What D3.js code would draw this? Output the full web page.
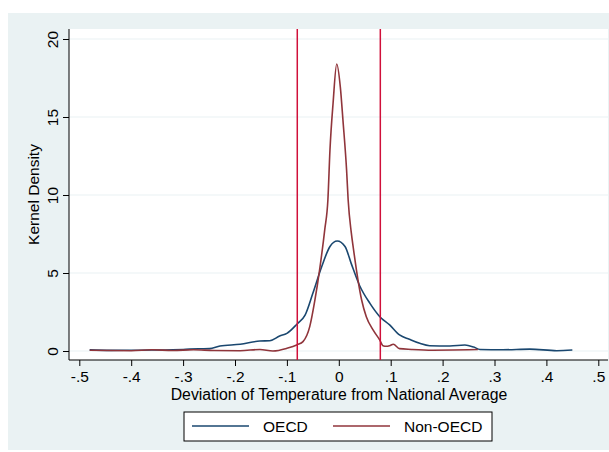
<!DOCTYPE html>
<html>
<head>
<meta charset="utf-8">
<script src="https://cdn.jsdelivr.net/npm/d3@7"></script>
<style>
  body { margin: 0; background: #fff; }
  svg { display: block; font-family: "Liberation Sans", Arial, sans-serif; }
</style>
</head>
<body>
<div id="chart"></div>
<script>
// kernel density estimates
const oecdX = [-0.48, -0.44, -0.40, -0.36, -0.32, -0.30, -0.27, -0.249, -0.229, -0.19, -0.152, -0.133, -0.114, -0.10, -0.08,
    -0.065, -0.05, -0.033, -0.017, -0.003, 0.012, 0.024, 0.04, 0.06, 0.079, 0.098, 0.117, 0.136, 0.156, 0.175,
    0.214, 0.243, 0.26, 0.272, 0.316, 0.368, 0.42, 0.45];
const oecdY = [0.07, 0.04, 0.05, 0.06, 0.08, 0.10, 0.14, 0.15, 0.32, 0.43, 0.64, 0.66, 0.96, 1.13, 1.75,
    2.3, 3.7, 5.4, 6.7, 7.05, 6.7, 5.6, 4.2, 3.05, 2.2, 1.67, 1.03, 0.75, 0.49, 0.34,
    0.32, 0.38, 0.25, 0.10, 0.08, 0.12, 0.02, 0.06];

const nonOecdX = [-0.48, -0.44, -0.40, -0.36, -0.32, -0.28, -0.24, -0.19, -0.152, -0.127, -0.10, -0.08, -0.069, -0.056,
    -0.046, -0.037, -0.027, -0.021, -0.017, -0.011, -0.004, 0.003, 0.008, 0.015, 0.018, 0.024, 0.028, 0.037,
    0.044, 0.053, 0.066, 0.079, 0.085, 0.092, 0.098, 0.105, 0.117, 0.14, 0.18, 0.22, 0.25, 0.268];
const nonOecdY = [0.05, 0.03, 0.02, 0.08, 0.03, 0.08, 0.03, 0.02, 0.10, 0.0, 0.17, 0.40, 0.60, 1.56,
    3.27, 5.2, 7.8, 9.7, 12.9, 15.9, 18.4, 16.9, 14.8, 11.6, 9.7, 7.6, 6.6, 4.55,
    3.27, 2.2, 1.35, 0.70, 0.34, 0.30, 0.34, 0.43, 0.15, 0.10, 0.05, 0.06, 0.08, 0.10];

const cutoffs = [-0.08, 0.08];
const xTicks = [-0.5, -0.4, -0.3, -0.2, -0.1, 0, 0.1, 0.2, 0.3, 0.4, 0.5];
const xTickLabels = ["-.5", "-.4", "-.3", "-.2", "-.1", "0", ".1", ".2", ".3", ".4", ".5"];
const yTicks = [0, 5, 10, 15, 20];
const seriesNames = ["OECD", "Non-OECD"];
const seriesColors = ["#1a476f", "#90353b"];

const width = 609, height = 452;
const plot = {left: 69, right: 608, top: 29, bottom: 360};
const fontSize = "15.5px";

const svg = d3.select("#chart").append("svg")
    .attr("width", width)
    .attr("height", height);

svg.append("rect").attr("x", 8).attr("y", 13).attr("width", width - 8).attr("height", 437).attr("fill", "#eaf2f3");
svg.append("rect")
    .attr("x", plot.left).attr("y", plot.top)
    .attr("width", plot.right - plot.left).attr("height", plot.bottom - plot.top)
    .attr("fill", "#fff");

const x = d3.scaleLinear().domain([-0.5, 0.5]).range([79.3, 598.3]);
const y = d3.scaleLinear().domain([0, 20]).range([351, 39]);

// gridlines
svg.append("g").selectAll("line")
    .data(yTicks)
    .enter().append("line")
    .attr("x1", plot.left).attr("x2", plot.right)
    .attr("y1", d => y(d)).attr("y2", d => y(d))
    .attr("stroke", "#eaf2f3").attr("stroke-width", 1.2);

// y axis
const yAxis = svg.append("g")
    .attr("transform", `translate(${plot.left},0)`)
    .call(d3.axisLeft(y).tickValues(yTicks).tickSize(6).tickSizeOuter(0).tickFormat(d3.format("d")));
yAxis.select(".domain").attr("d", `M0,${plot.top}V${plot.bottom}`);
yAxis.selectAll("text").remove();
yAxis.selectAll(".tick").append("text")
    .attr("transform", "translate(-11.5,0) rotate(-90)")
    .attr("text-anchor", "middle")
    .attr("fill", "#000")
    .style("font-size", fontSize)
    .text(d => d);

// x axis
const xAxis = svg.append("g")
    .attr("transform", `translate(0,${plot.bottom})`)
    .call(d3.axisBottom(x).tickValues(xTicks).tickSize(6).tickSizeOuter(0).tickFormat((d, i) => xTickLabels[i]));
xAxis.select(".domain").attr("d", `M${plot.left},0H${plot.right}`);
xAxis.selectAll("text")
    .attr("y", 0).attr("dy", 0)
    .attr("transform", "translate(0,21.5)")
    .attr("fill", "#000")
    .style("font-size", fontSize)
    .style("font-family", "Liberation Sans, Arial, sans-serif");
svg.selectAll(".domain, .tick line").attr("stroke", "#000");

svg.append("text")
    .attr("x", 339).attr("y", 399.5)
    .attr("text-anchor", "middle")
    .style("font-size", "15.8px")
    .text("Deviation of Temperature from National Average");

svg.append("text")
    .attr("transform", `translate(38.5,${(plot.top + plot.bottom) / 2}) rotate(-90)`)
    .attr("text-anchor", "middle")
    .style("font-size", fontSize)
    .text("Kernel Density");

// density curves
const line = d3.line()
    .x(d => x(d[0]))
    .y(d => y(d[1]))
    .curve(d3.curveMonotoneX);

const series = [d3.zip(oecdX, oecdY), d3.zip(nonOecdX, nonOecdY)];
svg.append("g").selectAll("path")
    .data(series)
    .enter().append("path")
    .attr("fill", "none")
    .attr("stroke", (d, i) => seriesColors[i])
    .attr("stroke-width", 1.6)
    .attr("d", line);

// cutoff lines
svg.append("g").selectAll("line")
    .data(cutoffs)
    .enter().append("line")
    .attr("x1", d => x(d)).attr("x2", d => x(d))
    .attr("y1", plot.top).attr("y2", plot.bottom)
    .attr("stroke", "#d0103a").attr("stroke-width", 1.5);

// legend
const legend = svg.append("g");
legend.append("rect")
    .attr("x", 184).attr("y", 412).attr("width", 308).attr("height", 29)
    .attr("fill", "#fff").attr("stroke", "#000").attr("stroke-width", 1);
const items = [{x1: 192, x2: 249, tx: 263}, {x1: 333, x2: 390, tx: 404}];
items.forEach((it, i) => {
    legend.append("line")
        .attr("x1", it.x1).attr("x2", it.x2).attr("y1", 426).attr("y2", 426)
        .attr("stroke", seriesColors[i]).attr("stroke-width", 1.6);
    legend.append("text")
        .attr("x", it.tx).attr("y", 431.5)
        .style("font-size", fontSize)
        .text(seriesNames[i]);
});
</script>
</body>
</html>
